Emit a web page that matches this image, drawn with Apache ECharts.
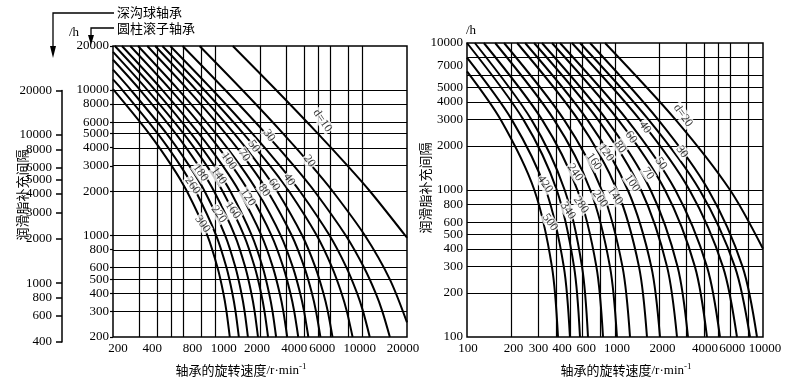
<!DOCTYPE html>
<html><head><meta charset="utf-8">
<script src="https://cdn.jsdelivr.net/npm/echarts@6/dist/echarts.min.js"></script>
<style>html,body{margin:0;padding:0;background:#fff}#c{width:788px;height:382px}</style>
</head><body><div id="c"></div>
<script>
// ---------- tick / grid values ----------
const leftXTicks = [200,400,800,1000,2000,4000,6000,10000,20000];
const leftXGrid = [300,400,500,600,800,1000,2000,3000,4000,5000,6000,8000,10000];
const leftYTicks = [200,300,400,500,600,800,1000,2000,3000,4000,5000,6000,8000,10000,20000];
const leftYGrid = [300,400,500,600,800,1000,2000,3000,4000,5000,6000,8000,10000];
const outerYTicks = [400,600,800,1000,2000,3000,4000,5000,6000,8000,10000,20000];
const rightXTicks = [100,200,300,400,600,1000,2000,4000,6000,10000];
const rightXGrid = [200,300,400,500,600,800,1000,2000,3000,4000,5000,6000,8000];
const rightYTicks = [100,200,300,400,500,600,800,1000,2000,3000,4000,5000,7000,10000];
const rightYGrid = [200,300,400,500,600,800,1000,2000,3000,4000,5000,6000,8000];

// ---------- left chart curves (speed r/min, hours) ----------
const leftD = [10,20,30,40,50,60,70,80,100,120,140,160,180,220,260,300];
const leftSpeed = [
 [1306,2565,4955,7898,11236,20000],
 [776,1511,2874,4496,6262,10320,15253,20000],
 [595,1156,2188,3404,4710,7651,10200,12240,13590,15290],
 [490,948,1777,2736,3745,5938,7752,9149,10050,11160],
 [433,832,1542,2340,3160,4859,6192,7174,7794,8530],
 [387,735,1337,1987,2625,3867,4771,5400,5784,6225],
 [342,647,1168,1724,2261,3285,4013,4512,4810,5152],
 [296,558,1003,1472,1921,2764,3353,3752,3990,4265],
 [262,493,882,1289,1676,2393,2888,3221,3418,3640],
 [230,432,768,1117,1445,2045,2452,2723,2883,3062],
 [206,385,680,980,1259,1758,2089,2306,2433,2574],
 [200,342,604,870,1116,1555,1845,2035,2146,2269],
 [200,305,534,765,976,1348,1590,1747,1838,1938],
 [200,264,463,661,842,1158,1363,1495,1571,1655],
 [200,231,403,576,732,1006,1183,1297,1363,1436],
 [200,352,502,638,876,1028,1127,1183,1246]
];
const leftHours = [
 [20000,10000,5000,3000,2000,962],
 [20000,10000,5000,3000,2000,1000,500,252],
 [20000,10000,5000,3000,2000,1000,600,400,300,200],
 [20000,10000,5000,3000,2000,1000,600,400,300,200],
 [20000,10000,5000,3000,2000,1000,600,400,300,200],
 [20000,10000,5000,3000,2000,1000,600,400,300,200],
 [20000,10000,5000,3000,2000,1000,600,400,300,200],
 [20000,10000,5000,3000,2000,1000,600,400,300,200],
 [20000,10000,5000,3000,2000,1000,600,400,300,200],
 [20000,10000,5000,3000,2000,1000,600,400,300,200],
 [20000,10000,5000,3000,2000,1000,600,400,300,200],
 [18220,10000,5000,3000,2000,1000,600,400,300,200],
 [16080,10000,5000,3000,2000,1000,600,400,300,200],
 [13760,10000,5000,3000,2000,1000,600,400,300,200],
 [11780,10000,5000,3000,2000,1000,600,400,300,200],
 [10090,5000,3000,2000,1000,600,400,300,200]
];
const leftLabelText = ['d=10','20','30','40','50','60','70','80','100','120','140','160','180','220','260','300'];
const leftLabelSpeed = [5318,4333,2305,3160,1816,2498,1556,2132,1226,1654,1048,1306,789,1048,695,814];
const leftLabelHours = [6132,3240,4853,2410,4090,2230,3557,2034,3241,1822,2566,1486,2690,1396,2198,1196];

// ---------- right chart curves ----------
const rightD = [20,30,40,50,60,70,80,100,120,140,160,200,240,280,340,420,500];
const rightSpeed = [
 [856,2571,5992,10000],
 [678,1962,4275,7281,9110],
 [580,1690,3731,6462,8170],
 [512,1475,3186,5366,6670],
 [425,1209,2554,4186,5120],
 [375,1052,2175,3471,4183],
 [321,877,1739,2648,3113],
 [284,769,1500,2249,2624],
 [247,651,1220,1760,2014],
 [218,564,1031,1453,1645],
 [178,453,813,1124,1263],
 [155,388,681,925,1031],
 [130,322,557,749,830],
 [113,273,457,599,657],
 [100,241,404,529,580],
 [100,201,341,451,496],
 [100,169,285,375,412]
];
const rightHours = [
 [10000,3000,1000,398],
 [10000,3000,1000,300,100],[10000,3000,1000,300,100],[10000,3000,1000,300,100],
 [10000,3000,1000,300,100],[10000,3000,1000,300,100],[10000,3000,1000,300,100],
 [10000,3000,1000,300,100],[10000,3000,1000,300,100],[10000,3000,1000,300,100],
 [10000,3000,1000,300,100],[10000,3000,1000,300,100],[10000,3000,1000,300,100],
 [10000,3000,1000,300,100],[10000,3000,1000,300,100],
 [7943,3000,1000,300,100],
 [6408,3000,1000,300,100]
];
const rightLabelText = ['d=20','30','40','50','60','70','80','100','120','140','160','200','240','280','340','420','500'];
const rightLabelSpeed = [2881,2836,1594,2046,1283,1671,1081,1303,870,1000,721,792,537,589,481,337,364];
const rightLabelHours = [3211,1820,2671,1514,2291,1298,1965,1113,1792,912,1561,871,1318,794,724,1096,603];

// ---------- build ----------
const LOG = v => Math.log10(v);
const NUMFONT = '"Liberation Serif","DejaVu Serif",serif';
const CJK = '"Noto Sans CJK SC","Noto Sans",sans-serif';

function richFor(values, shifts){
  const rich = {};
  values.forEach((v,i)=>{
    const s = shifts[i] || 0;
    rich['s'+i] = {fontFamily:NUMFONT, fontSize:13, color:'#000',
      padding: s>0 ? [0,0,0,2*s] : [0,-2*s,0,0]};
  });
  return rich;
}
function fmtFor(values){
  return function(v){
    let bi=0, bd=1e9;
    values.forEach((t,i)=>{const d=Math.abs(Math.log10(t)-v); if(d<bd){bd=d;bi=i;}});
    return '{s'+bi+'|'+values[bi]+'}';
  };
}

const leftXShift = [5,-5,-9,8,-3,-10,-8,-3,-4];
const rightXShift = [1,2,1,6,4,2,3,1,2,2];

const xNameRich = {
  a:{fontFamily:CJK, fontSize:13, color:'#000'},
  b:{fontFamily:NUMFONT, fontSize:13, color:'#000'},
  sup:{fontFamily:NUMFONT, fontSize:9, color:'#000', verticalAlign:'top', padding:[0,0,8,0]}
};

const series = [];
function gridLines(xi, yi, xs, ys, x0, y0){
  series.push({type:'line', xAxisIndex:xi, yAxisIndex:yi, data:[[LOG(x0),LOG(y0)]],
    showSymbol:false, symbol:'none', lineStyle:{width:0}, silent:true, z:1,
    markLine:{silent:true, symbol:['none','none'], label:{show:false}, animation:false,
      lineStyle:{color:'#000', width:1.2, type:'solid'},
      emphasis:{disabled:true},
      data:[...xs.map(v=>({xAxis:LOG(v)})), ...ys.map(v=>({yAxis:LOG(v)}))]}});
}
gridLines(0,0,leftXGrid,leftYGrid,200,200);
gridLines(2,2,rightXGrid,rightYGrid,100,100);

function curves(xi, ds, speeds, hours){
  ds.forEach((d,i)=>{
    series.push({type:'line', name:'d='+d, xAxisIndex:xi, yAxisIndex:xi,
      data: speeds[i].map((n,j)=>[LOG(n), LOG(hours[i][j])]),
      smooth:0.3, showSymbol:false, symbol:'none', clip:true,
      lineStyle:{color:'#000', width:2}, silent:true, z:3});
  });
}
curves(0, leftD, leftSpeed, leftHours);
curves(2, rightD, rightSpeed, rightHours);

function labels(xi, texts, sp, hr){
  series.push({type:'scatter', xAxisIndex:xi, yAxisIndex:xi, symbolSize:1, itemStyle:{color:'rgba(0,0,0,0)'},
    silent:true, z:10,
    data: texts.map((t,i)=>({name:t, value:[LOG(sp[i]), LOG(hr[i])]})),
    label:{show:true, position:'inside', formatter:'{b}', rotate:-55, color:'#000',
      backgroundColor:'#fff', padding:[0,1], fontFamily:NUMFONT, fontSize:12}});
}
labels(0, leftLabelText, leftLabelSpeed, leftLabelHours);
labels(2, rightLabelText, rightLabelSpeed, rightLabelHours);

const noLine = {show:false};
const option = {
  animation:false,
  backgroundColor:'#fff',
  grid:[
    {left:113, top:46, width:294, height:296, show:true, borderColor:'#000', borderWidth:1.5, backgroundColor:'transparent'},
    {left:62, top:90.5, width:1, height:251.5, show:false},
    {left:467, top:43, width:296, height:300, show:true, borderColor:'#000', borderWidth:1.5, backgroundColor:'transparent'}
  ],
  xAxis:[
    {gridIndex:0, type:'value', min:LOG(200), max:LOG(20000), axisLine:noLine, axisTick:noLine, splitLine:noLine,
     axisLabel:{customValues:leftXTicks.map(LOG), formatter:fmtFor(leftXTicks), rich:richFor(leftXTicks,leftXShift), margin:5},
     name:'{a|轴承的旋转速度}{b|/r·min}{sup|-1}', nameLocation:'middle', nameGap:25,
     nameTextStyle:{rich:xNameRich, padding:[0,38,0,0]}},
    {gridIndex:1, type:'value', min:0, max:1, show:false},
    {gridIndex:2, type:'value', min:LOG(100), max:LOG(10000), axisLine:noLine, axisTick:noLine, splitLine:noLine,
     axisLabel:{customValues:rightXTicks.map(LOG), formatter:fmtFor(rightXTicks), rich:richFor(rightXTicks,rightXShift), margin:5},
     name:'{a|轴承的旋转速度}{b|/r·min}{sup|-1}', nameLocation:'middle', nameGap:25,
     nameTextStyle:{rich:xNameRich, padding:[0,0,0,22]}}
  ],
  yAxis:[
    {gridIndex:0, type:'value', min:LOG(200), max:LOG(20000), axisLine:noLine, splitLine:noLine,
     axisTick:{show:true, customValues:leftYTicks.map(LOG), length:3, lineStyle:{color:'#000', width:1.2}},
     axisLabel:{customValues:leftYTicks.map(LOG), formatter:fmtFor(leftYTicks), rich:richFor(leftYTicks,[]), margin:4}},
    {gridIndex:1, type:'value', min:LOG(400), max:LOG(20000), splitLine:noLine,
     axisLine:{show:true, lineStyle:{color:'#000', width:1.5}},
     axisTick:{show:true, customValues:outerYTicks.map(LOG), length:6, lineStyle:{color:'#000', width:1.5}},
     axisLabel:{customValues:outerYTicks.map(LOG), formatter:fmtFor(outerYTicks), rich:richFor(outerYTicks,[]), margin:10}},
    {gridIndex:2, type:'value', min:LOG(100), max:LOG(10000), axisLine:noLine, splitLine:noLine, axisTick:noLine,
     axisLabel:{customValues:rightYTicks.map(LOG), formatter:fmtFor(rightYTicks), rich:richFor(rightYTicks,[]), margin:4}}
  ],
  series: series,
  graphic:[
    {type:'text', x:117, y:12, style:{text:'深沟球轴承', font:'13px '+CJK, fill:'#000', verticalAlign:'middle'}},
    {type:'text', x:117, y:28, style:{text:'圆柱滚子轴承', font:'13px '+CJK, fill:'#000', verticalAlign:'middle'}},
    {type:'polyline', shape:{points:[[114,13],[53,13],[53,50]]}, style:{stroke:'#000', lineWidth:1.3, fill:null}},
    {type:'polygon', shape:{points:[[50,46],[56,46],[53,58]]}, style:{fill:'#000'}},
    {type:'polyline', shape:{points:[[114,28],[91,28],[91,38]]}, style:{stroke:'#000', lineWidth:1.3, fill:null}},
    {type:'polygon', shape:{points:[[88,35],[94,35],[91,45]]}, style:{fill:'#000'}},
    {type:'text', x:74, y:33, style:{text:'/h', font:'13px '+NUMFONT, fill:'#000', align:'center', verticalAlign:'middle'}},
    {type:'text', x:471, y:31, style:{text:'/h', font:'13px '+NUMFONT, fill:'#000', align:'center', verticalAlign:'middle'}},
    {type:'text', x:22, y:195, rotation:Math.PI/2, style:{text:'润滑脂补充间隔', font:'13px '+CJK, fill:'#000', align:'center', verticalAlign:'middle'}},
    {type:'text', x:425, y:188, rotation:Math.PI/2, style:{text:'润滑脂补充间隔', font:'13px '+CJK, fill:'#000', align:'center', verticalAlign:'middle'}}
  ]
};
const chart = echarts.init(document.getElementById('c'), null, {renderer:'canvas'});
chart.setOption(option);
</script></body></html>
